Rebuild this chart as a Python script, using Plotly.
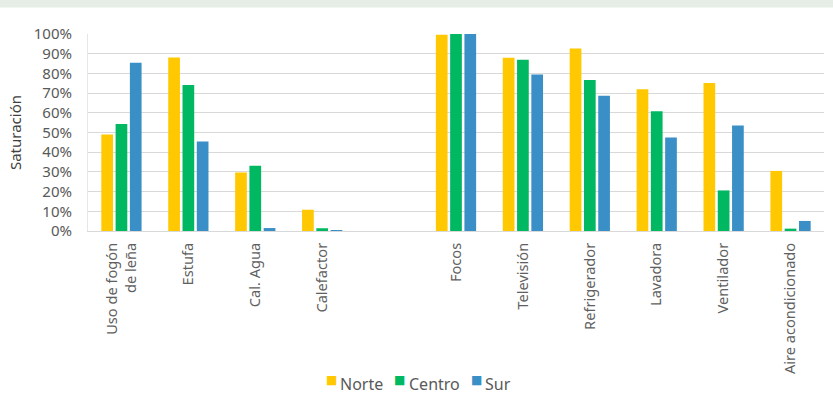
import plotly.graph_objects as go

categories = ["Uso de fogón<br> de leña", "Estufa", "Cal. Agua", "Calefactor", " ",
              "Focos", "Televisión", "Refrigerador", "Lavadora", "Ventilador", "Aire acondicionado"]
norte = [49.0, 88.1, 29.7, 10.8, None, 99.6, 87.9, 92.7, 71.9, 75.1, 30.5]
centro = [54.3, 74.1, 33.1, 1.4, None, 100.0, 86.9, 76.6, 60.8, 20.6, 1.2]
sur = [85.4, 45.4, 1.5, 0.5, None, 100.0, 79.5, 68.7, 47.4, 53.5, 5.1]
series_names = ["Norte", "Centro", "Sur"]
colors = ["#FFC800", "#00B862", "#3A8FC6"]

fig = go.Figure()
for name, vals, col in zip(series_names, [norte, centro, sur], colors):
    fig.add_trace(go.Bar(x=categories, y=vals, name=name, marker_color=col,
                         marker_line_width=0, showlegend=False))

# legend drawn as text annotations (square marker + label)
square_x = [0.3306, 0.4230, 0.5275]
label_x = [0.3394, 0.4331, 0.5363]
annotations = []
for name, col, sx, lx in zip(series_names, colors, square_x, label_x):
    annotations.append(dict(
        xref="paper", yref="paper", x=sx, y=-0.757, xanchor="center", yanchor="middle",
        showarrow=False, text="■", font=dict(size=12, color=col,
                                             family="DejaVu Sans")))
    annotations.append(dict(
        xref="paper", yref="paper", x=lx, y=-0.775, xanchor="left", yanchor="middle",
        showarrow=False, text=name, font=dict(size=16, color="#595959")))

font_family = "Noto Sans, Open Sans, sans-serif"
fig.update_layout(
    width=833, height=393,
    margin=dict(l=88, r=8.5, t=33.5, b=162),
    paper_bgcolor="white", plot_bgcolor="white",
    barmode="group", bargap=0.36, bargroupgap=0.18,
    font=dict(family=font_family, color="#595959", size=14),
    annotations=annotations,
    shapes=[dict(type="rect", xref="paper", yref="paper", x0=-0.2, x1=1.1,
                 y0=1 + 26.5 / 197.5, y1=1.3, fillcolor="#E6EDE7", line_width=0,
                 layer="below")],
)
fig.update_xaxes(type="category", tickangle=-90, showgrid=False, automargin=False,
                 showline=True, linecolor="#D9D9D9", linewidth=1,
                 ticks="", ticklabelstandoff=5, tickfont=dict(size=14.6, color="#606060"))
fig.update_yaxes(range=[0, 100], dtick=10, ticksuffix="%", showgrid=True, automargin=False,
                 gridcolor="#D9D9D9", gridwidth=1, zeroline=False,
                 showline=True, linecolor="#E6E6E6",
                 ticks="", ticklabelstandoff=12, tickfont=dict(size=15, color="#595959"),
                 title=dict(text="Saturación", font=dict(size=15, color="#404040"), standoff=8))
fig.write_html("out.html")
